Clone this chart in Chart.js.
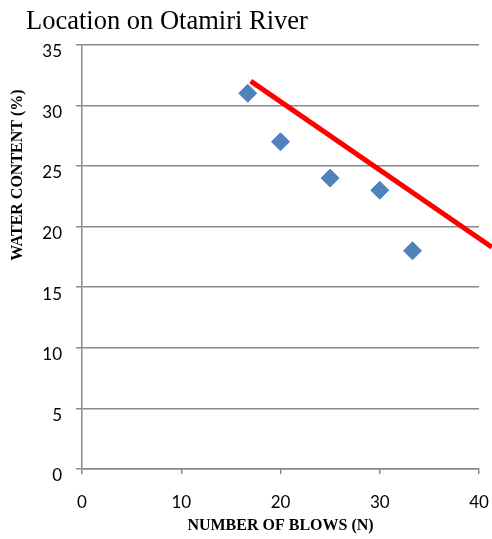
<!DOCTYPE html>
<html>
<head>
<meta charset="utf-8">
<script src="https://cdn.jsdelivr.net/npm/chart.js@4/dist/chart.umd.min.js"></script>
<style>
  html, body { margin: 0; padding: 0; background: #fff; }
  #wrap { width: 492px; height: 539px; }
</style>
</head>
<body>
<div id="wrap"><canvas id="liquidLimit"></canvas></div>
<script>
var chartTitle = "Location on Otamiri River";
var xTitle = "NUMBER OF BLOWS (N)";
var yTitle = "WATER CONTENT (%)";

// measured points
var blows = [16.7, 20, 25, 30, 33.3];
var waterContent = [31, 27, 24, 23, 18];

// red line (hand drawn flow line)
var lineX = [17, 41.3];
var lineY = [32, 18.3];

var xTicks = [0, 10, 20, 30, 40];
var yTicks = [0, 5, 10, 15, 20, 25, 30, 35];

var gridGray = '#8a8a8a';

function toPoints(xs, ys) {
    var pts = [];
    for (var i = 0; i < xs.length; i++) {
        pts.push({x: xs[i], y: ys[i]});
    }
    return pts;
}

// y axis title sits higher than the middle, like in the original
var yTitlePlugin = {
    id: 'yTitlePlugin',
    afterDraw: function(chart) {
        var ctx = chart.ctx;
        ctx.save();
        ctx.translate(17.5, 175);
        ctx.rotate(-Math.PI / 2);
        ctx.font = 'bold 16px "Liberation Serif", "Times New Roman", serif';
        ctx.fillStyle = '#000';
        ctx.textAlign = 'center';
        ctx.textBaseline = 'middle';
        ctx.fillText(yTitle, 0, 0);
        ctx.restore();
    }
};

var ctx = document.getElementById('liquidLimit').getContext('2d');
var chart = new Chart(ctx, {
    type: 'scatter',
    data: {
        datasets: [{
            label: 'line',
            data: toPoints(lineX, lineY),
            showLine: true,
            borderColor: '#ff0000',
            borderWidth: 5,
            pointRadius: 0,
            clip: false
        }, {
            label: 'points',
            data: toPoints(blows, waterContent),
            pointStyle: 'rectRot',
            pointRadius: 9,
            backgroundColor: '#4f81bd',
            borderColor: '#4f81bd',
            borderWidth: 1
        }]
    },
    options: {
        responsive: true,
        maintainAspectRatio: false,
        animation: false,
        layout: { padding: { left: 26, right: 0, top: 0, bottom: 0 } },
        plugins: {
            legend: { display: false },
            tooltip: { enabled: false },
            title: {
                display: true,
                text: chartTitle,
                align: 'start',
                color: '#000',
                font: { family: '"Liberation Serif", "Times New Roman", serif', size: 26.5, weight: 'normal' },
                padding: { top: 6, bottom: 7 }
            }
        },
        scales: {
            x: {
                type: 'linear',
                min: 0,
                max: 40,
                afterBuildTicks: function(scale) {
                    scale.ticks = xTicks.map(function(v) { return {value: v}; });
                },
                afterFit: function(scale) {
                    scale.height = 70;
                    scale.paddingLeft = 0;
                    scale.paddingRight = 13;
                },
                grid: { drawOnChartArea: false, drawTicks: true, tickLength: 5, color: gridGray, lineWidth: 1.5 },
                border: { color: gridGray, width: 1.5 },
                ticks: {
                    color: '#000',
                    padding: 18,
                    maxRotation: 0,
                    font: { family: 'Lato, "Open Sans", sans-serif', size: 17 }
                },
                title: {
                    display: true,
                    text: xTitle,
                    color: '#000',
                    font: { family: '"Liberation Serif", "Times New Roman", serif', size: 16, weight: 'bold' },
                    padding: { top: 0, bottom: 4 }
                }
            },
            y: {
                type: 'linear',
                min: 0,
                max: 35,
                afterBuildTicks: function(scale) {
                    scale.ticks = yTicks.map(function(v) { return {value: v}; });
                },
                afterFit: function(scale) { scale.width = 56; },
                grid: { drawTicks: true, tickLength: 6, color: gridGray, lineWidth: 1.5 },
                border: { color: gridGray, width: 1.5 },
                ticks: {
                    color: '#000',
                    padding: 14,
                    labelOffset: 7,
                    font: { family: 'Lato, "Open Sans", sans-serif', size: 17 }
                }
            }
        }
    },
    plugins: [yTitlePlugin]
});
</script>
</body>
</html>
